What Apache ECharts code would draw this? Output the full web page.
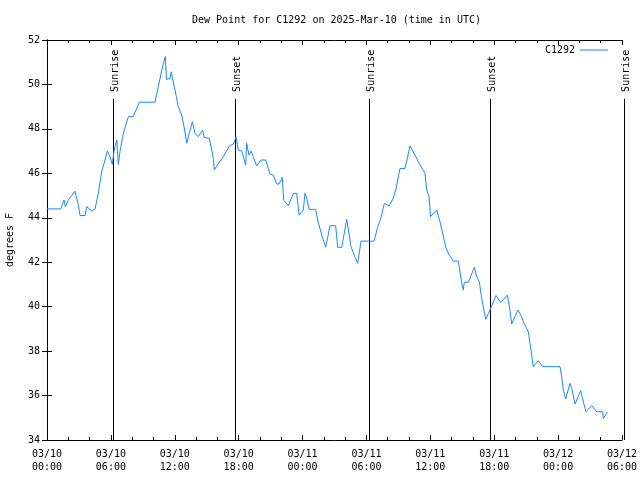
<!DOCTYPE html>
<html>
<head>
<meta charset="utf-8">
<script src="https://cdn.jsdelivr.net/npm/echarts@6/dist/echarts.min.js"></script>
<style>html,body{margin:0;padding:0;background:#fff;}#c{width:640px;height:480px;}</style>
</head>
<body>
<div id="c"></div>
<script>
// hours since 2025-03-10 00:00 UTC
var hours = [0,1.29,1.6,1.72,2.0,2.32,2.63,2.72,2.94,3.1,3.57,3.73,4.2,4.51,4.82,5.14,5.45,5.66,5.92,6.13,
6.29,6.55,6.7,6.86,7.11,7.26,7.64,8.1,8.67,10.14,10.45,10.9,11.11,11.22,11.55,11.67,11.79,12.02,12.33,12.65,
12.87,13.12,13.36,13.65,13.9,14.21,14.62,14.74,15.24,15.47,15.62,15.71,15.99,16.56,17.12,17.5,17.66,17.75,17.97,18.29,
18.44,18.66,18.75,18.97,19.16,19.37,19.69,20.1,20.54,20.94,21.25,21.57,21.79,22.1,22.23,22.66,23.13,23.45,23.67,24.07,
24.23,24.39,24.61,25.23,25.42,25.8,26.17,26.58,27.11,27.3,27.68,28.15,28.55,28.93,29.18,29.49,30.71,31.02,31.37,31.68,
32.12,32.52,32.75,33.15,33.62,34.09,34.56,35.03,35.5,35.66,35.88,36.02,36.28,36.6,36.91,37.16,37.47,37.78,38.16,38.63,
38.95,39.1,39.19,39.57,40.13,40.36,40.6,40.82,41.2,41.6,42.17,42.61,43.23,43.42,43.64,44.21,44.58,44.73,45.2,45.36,
45.67,46.14,46.55,48.18,48.34,48.49,48.71,49.12,49.28,49.59,50.12,50.37,50.62,51.16,51.62,52.19,52.25,52.62];
var dewPoint = [44.4,44.4,44.8,44.5,44.8,45.0,45.2,45.0,44.6,44.1,44.1,44.5,44.3,44.4,45.1,46.1,46.6,47.0,46.75,46.4,
47.0,47.5,46.4,47.0,47.65,47.95,48.55,48.55,49.2,49.2,49.9,50.9,51.25,50.23,50.27,50.57,50.27,49.75,49.0,48.62,
48.1,47.35,47.8,48.32,47.8,47.65,47.95,47.62,47.57,47.05,46.67,46.15,46.37,46.75,47.23,47.32,47.5,47.65,47.05,47.0,
46.75,46.37,47.35,46.82,47.0,46.75,46.33,46.6,46.6,45.97,45.92,45.52,45.52,45.82,44.8,44.53,45.1,45.1,44.12,44.35,
45.1,44.88,44.38,44.38,43.9,43.22,42.67,43.64,43.64,42.67,42.67,43.93,42.7,42.22,41.95,42.95,42.95,43.52,44.02,44.65,
44.53,44.88,45.25,46.22,46.22,47.23,46.82,46.37,46.0,45.25,44.95,44.05,44.2,44.35,43.82,43.3,42.63,42.32,42.05,42.05,
41.05,40.75,41.1,41.1,41.77,41.35,41.12,40.38,39.43,39.85,40.5,40.18,40.52,40.03,39.22,39.85,39.55,39.32,38.87,38.35,
37.3,37.57,37.3,37.3,36.82,36.25,35.85,36.55,36.32,35.62,36.22,35.72,35.27,35.55,35.27,35.27,34.96,35.26];
var eventHours = [6.2, 17.7, 30.2, 41.65, 54.2];
var eventNames = ['Sunrise', 'Sunset', 'Sunrise', 'Sunset', 'Sunrise'];
var eventTop = 49.35;
var xTickLabels = ['03/10\n00:00','03/10\n06:00','03/10\n12:00','03/10\n18:00','03/11\n00:00',
                   '03/11\n06:00','03/11\n12:00','03/11\n18:00','03/12\n00:00','03/12\n06:00'];
var seriesName = 'C1292';

var FONT = 'DejaVu Sans Mono';
var chart = echarts.init(document.getElementById('c'), null, {renderer: 'canvas'});
var pts = hours.map(function (h, i) { return [h, dewPoint[i]]; });
var evData = eventHours.map(function (h, i) { return [h, eventTop, i]; });

var series = [{
  name: seriesName, type: 'line', data: pts, symbol: 'none', smooth: false,
  lineStyle: {color: '#1a88ff', width: 1}, itemStyle: {color: '#1a88ff'}, z: 3
}, {
  name: 'events', type: 'custom', silent: true, clip: false, z: 2,
  data: evData,
  encode: {x: 0, y: 1},
  renderItem: function (params, api) {
    var h = api.value(0);
    var idx = api.value(2);
    var top = api.coord([h, api.value(1)]);
    var bot = api.coord([h, 34]);
    var x = Math.round(top[0]) + 0.5;
    return {
      type: 'group',
      children: [{
        type: 'line',
        shape: {x1: x, y1: top[1], x2: x, y2: bot[1]},
        style: {stroke: '#000', lineWidth: 1}
      }, {
        type: 'text', x: x + 2, y: top[1] - 7, rotation: Math.PI / 2,
        style: {
          text: eventNames[idx], textAlign: 'left', textVerticalAlign: 'middle',
          font: '10px "' + FONT + '"', fill: '#000'
        }
      }]
    };
  }
}];

var tickAx = function () {
  return {
    axisLine: {show: true, lineStyle: {color: '#000', width: 1}},
    axisTick: {show: true, inside: true, length: 5, lineStyle: {color: '#000'}},
    splitLine: {show: false}
  };
};

chart.setOption({
  animation: false,
  backgroundColor: '#fff',
  title: {
    text: 'Dew Point for C1292 on 2025-Mar-10 (time in UTC)',
    left: 187, top: 10,
    textStyle: {fontFamily: FONT, fontSize: 10, fontWeight: 'normal', color: '#000'}
  },
  legend: {
    data: [seriesName], right: 27, top: 40, align: 'right',
    icon: 'rect', itemWidth: 28, itemHeight: 1, itemGap: 6,
    textStyle: {fontFamily: FONT, fontSize: 10, color: '#000'}
  },
  grid: {left: 47, right: 18, top: 40, bottom: 40, containLabel: false, outerBoundsMode: 'none'},
  xAxis: [
    Object.assign(tickAx(), {
      type: 'value', min: 0, max: 54, interval: 6, position: 'bottom',
      minorTick: {show: true, splitNumber: 3, length: 3, lineStyle: {color: '#000'}},
      axisLabel: {
        margin: 8, fontFamily: FONT, fontSize: 10, color: '#000', lineHeight: 13,
        formatter: function (v) { return xTickLabels[Math.round(v / 6)]; }
      }
    }),
    Object.assign(tickAx(), {
      type: 'value', min: 0, max: 54, interval: 6, position: 'top',
      minorTick: {show: true, splitNumber: 3, length: 3, lineStyle: {color: '#000'}},
      axisLabel: {show: false}
    })
  ],
  yAxis: [
    Object.assign(tickAx(), {
      type: 'value', min: 34, max: 52, interval: 2, position: 'left',
      name: 'degrees F', nameLocation: 'middle', nameGap: 32, nameRotate: 90,
      nameTextStyle: {fontFamily: FONT, fontSize: 10, color: '#000'},
      axisLabel: {margin: 7, fontFamily: FONT, fontSize: 10, color: '#000'}
    }),
    Object.assign(tickAx(), {
      type: 'value', min: 34, max: 52, interval: 2, position: 'right',
      axisLabel: {show: false}
    })
  ],
  series: series
});
</script>
</body>
</html>
